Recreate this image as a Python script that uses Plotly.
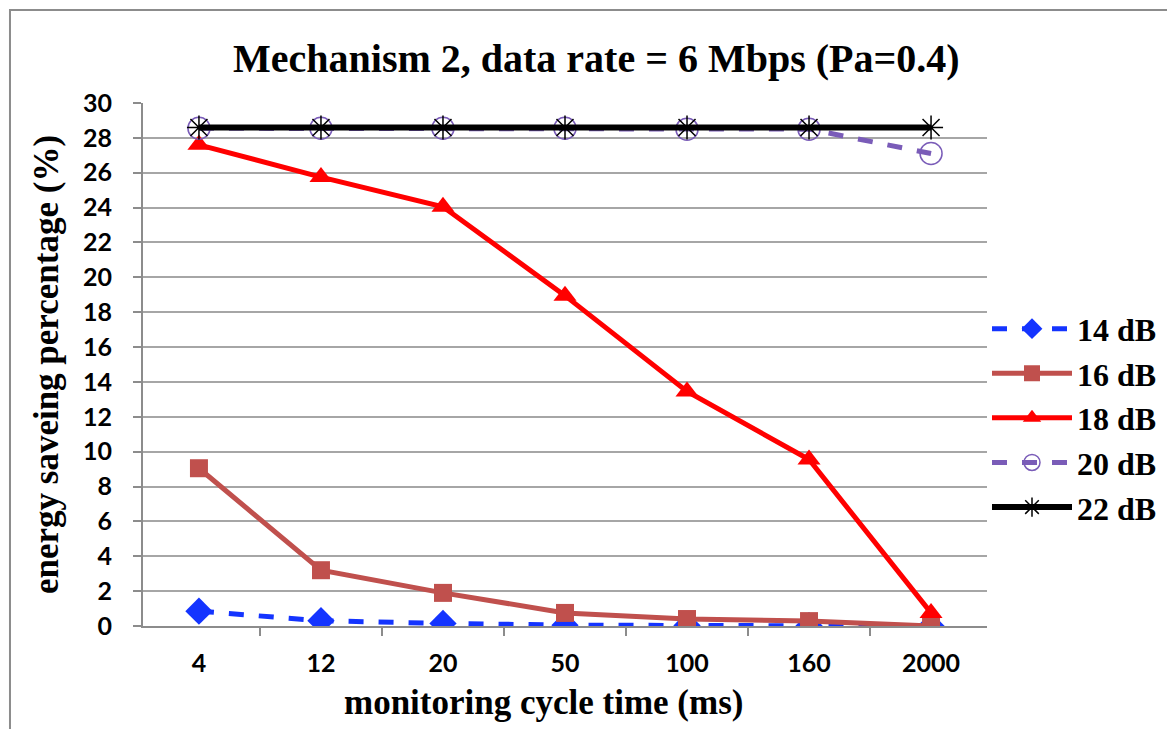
import plotly.graph_objects as go

categories = ["4", "12", "20", "50", "100", "160", "2000"]
s14 = [0.85, 0.3, 0.15, 0.05, 0.03, 0.02, 0.0]
s16 = [9.05, 3.2, 1.9, 0.75, 0.4, 0.28, 0.0]
s18 = [27.6, 25.75, 24.05, 18.95, 13.45, 9.55, 0.75]
s20 = [28.55, 28.55, 28.55, 28.55, 28.5, 28.5, 27.1]
s22 = [28.6, 28.6, 28.6, 28.6, 28.6, 28.6, 28.6]
names = ["14 dB", "16 dB", "18 dB", "20 dB", "22 dB"]

serif = "Liberation Serif"
sans = "Lato"

fig = go.Figure()
fig.add_trace(go.Scatter(x=categories, y=s14, name=names[0], mode="lines+markers",
                         line=dict(color="#1434FF", width=5, dash="dash"),
                         marker=dict(symbol="diamond", size=21, color="#1434FF")))
fig.add_trace(go.Scatter(x=categories, y=s16, name=names[1], mode="lines+markers",
                         line=dict(color="#C0504D", width=5),
                         marker=dict(symbol="square", size=18, color="#C0504D")))
fig.add_trace(go.Scatter(x=categories, y=s18, name=names[2], mode="lines+markers",
                         line=dict(color="#FF0000", width=5),
                         marker=dict(symbol="triangle-up", size=20, color="#FF0000")))
fig.add_trace(go.Scatter(x=categories, y=s20, name=names[3], mode="lines+markers",
                         line=dict(color="#7A5CB8", width=5, dash="dash"),
                         marker=dict(symbol="circle-open", size=22, color="#7A5CB8",
                                     line=dict(width=1.5, color="#7A5CB8"))))
fig.add_trace(go.Scatter(x=categories, y=s22, name=names[4], mode="lines+markers",
                         line=dict(color="#000000", width=6),
                         marker=dict(symbol="asterisk-open", size=20, color="#000000",
                                     line=dict(width=1.5, color="#000000"))))

fig.update_layout(
    width=1167, height=729,
    margin=dict(l=143, r=180, t=103, b=103, autoexpand=False),
    paper_bgcolor="white", plot_bgcolor="white",
    title=dict(text="Mechanism 2, data rate = 6 Mbps (Pa=0.4)",
               font=dict(family=serif, size=40, color="black", weight="bold"),
               x=0.511, xanchor="center", y=0.921, yanchor="middle"),
    legend=dict(x=1.0, y=0.398, xanchor="left", yanchor="middle",
                font=dict(family=serif, size=32, color="black", weight="bold"),
                itemwidth=80, bgcolor="rgba(0,0,0,0)", tracegroupgap=0),
    showlegend=True,
)
fig.update_xaxes(
    type="category", showline=True, linecolor="#8c8c8c", linewidth=2,
    ticks="outside", tickson="boundaries", ticklen=8, tickcolor="#8c8c8c", tickwidth=2,
    showgrid=False, ticklabelstandoff=14, automargin=False,
    tickfont=dict(family=sans, size=25, color="black", weight="bold"),
)
fig.update_yaxes(
    range=[0, 30], dtick=2, showline=True, linecolor="#8c8c8c", linewidth=2,
    ticks="outside", ticklen=8, tickcolor="#8c8c8c", tickwidth=2,
    showgrid=True, gridcolor="#a6a6a6", gridwidth=2, zeroline=False,
    ticklabelstandoff=16, automargin=False,
    tickfont=dict(family=sans, size=25, color="black", weight="bold"),
    title=dict(text="energy saveing percentage (%)",
               font=dict(family=serif, size=35, color="black", weight="bold"), standoff=14),
)
fig.add_annotation(text="monitoring cycle time (ms)", xref="paper", yref="paper",
                   x=0.475, y=-0.147, xanchor="center", yanchor="middle", showarrow=False,
                   font=dict(family=serif, size=35, color="black", weight="bold"))
fig.add_shape(type="rect", xref="paper", yref="paper",
              x0=-0.1576, x1=1.4, y0=-0.4, y1=1.1778,
              line=dict(color="#8c8c8c", width=2), fillcolor="rgba(0,0,0,0)", layer="below")

fig.write_html("out.html")
